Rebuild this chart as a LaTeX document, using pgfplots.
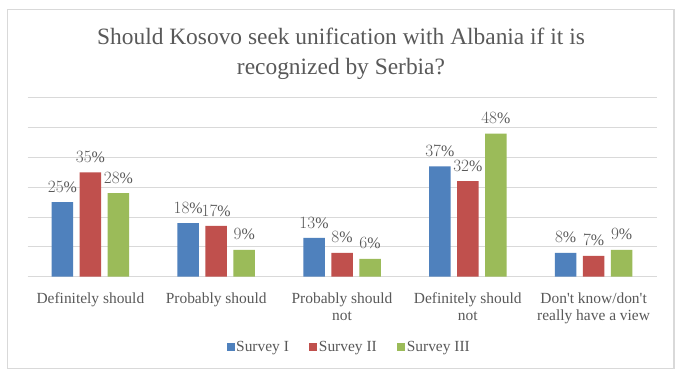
\documentclass[border=0pt]{standalone}
\usepackage{fontspec}
\setmainfont{Liberation Serif}[Ligatures=TeXOff]
\usepackage{pgfplots}
\pgfplotsset{compat=1.18}
\definecolor{txt}{HTML}{595959}
\definecolor{gridc}{HTML}{D9D9D9}
\definecolor{sI}{HTML}{4F81BD}
\definecolor{sII}{HTML}{C0504D}
\definecolor{sIII}{HTML}{9BBB59}
\begin{document}
\begin{tikzpicture}[x=1bp,y=1bp]
\fill[white] (-27.5,-100.3) rectangle (653.5,276.7);
\draw[gridc, line width=1.2bp] (-20,-91.8) rectangle (646.5,267.2);
\node[anchor=base, text=txt, font=\fontsize{23.5}{30}\selectfont, inner sep=0pt] at (313.5,232.7) {Should Kosovo seek unification with Albania if it is};
\node[anchor=base, text=txt, font=\fontsize{23.5}{30}\selectfont, inner sep=0pt] at (313.5,202.7) {recognized by Serbia?};
\begin{axis}[
  at={(0,0)}, anchor=south west,
  scale only axis, width=629bp, height=179bp,
  xmin=-0.5, xmax=4.5, ymin=0, ymax=60,
  ytick={0,10,...,60}, yticklabels={},
  ymajorgrids, grid style={gridc, line width=1bp},
  axis line style={draw=none},
  major tick length=0pt,
  xtick={0,...,4},
  xticklabels={Definitely should, Probably should, Probably should\\not, Definitely should\\not, Don't know/don't\\really have a view},
  xticklabel style={align=center, anchor=north, inner sep=0pt, yshift=-15.8bp, font=\fontsize{15.5}{17}\selectfont, text=txt},
  ybar=6.5bp, bar width=21.5bp,
  nodes near coords={\pgfmathprintnumber{\pgfplotspointmeta}\%},
  nodes near coords style={font=\fontsize{16}{18}\selectfont, text=txt, anchor=south, inner sep=0pt, yshift=9.5bp},
  legend columns=3,
  legend style={at={(0.5,0)}, anchor=center, xshift=7bp, yshift=-70.3bp, draw=none, fill=none, font=\fontsize{15.5}{17}\selectfont, text=txt, column sep=0bp, nodes={inner sep=1.5bp}, /tikz/every even column/.append style={column sep=19bp}},
  legend image code/.code={\draw[#1, draw=none] (0bp,-4bp) rectangle (8bp,4bp);},
]
\addplot[fill=sI, draw=none] coordinates {(0,25) (1,18) (2,13) (3,37) (4,8)};
\addplot[fill=sII, draw=none] coordinates {(0,35) (1,17) (2,8) (3,32) (4,7)};
\addplot[fill=sIII, draw=none] coordinates {(0,28) (1,9) (2,6) (3,48) (4,9)};
\legend{Survey I, Survey II, Survey III}
\end{axis}
\end{tikzpicture}
\end{document}
